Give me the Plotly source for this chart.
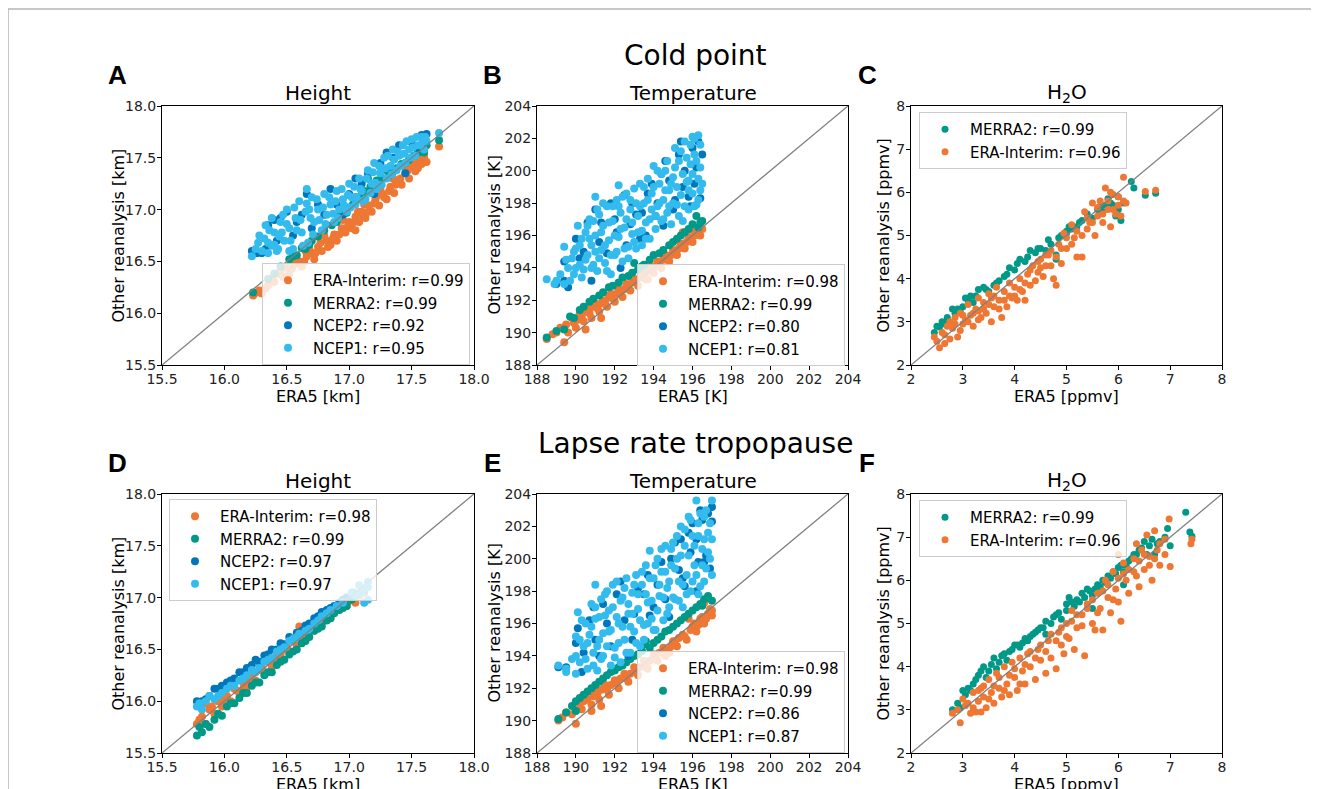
import plotly.graph_objects as go

# the page body adds an 8 px offset, so the figure is drawn 8 px smaller and positions are shifted
PAGE_W, PAGE_H = 1319, 789
OFF = 8
W, H = PAGE_W - OFF, PAGE_H - OFF

ORANGE = '#EE7733'
TEAL = '#009988'
BLUE = '#0077BB'
CYAN = '#33BBEE'

# --- axis limits / ticks ---
height_range = [15.5, 18.0]
height_ticks = [15.5, 16.0, 16.5, 17.0, 17.5, 18.0]
temp_range = [188, 204]
temp_ticks = [188, 190, 192, 194, 196, 198, 200, 202, 204]
h2o_range = [2, 8]
h2o_ticks = [2, 3, 4, 5, 6, 7, 8]

# ---------------- A: cold point height ----------------
a_erai_x = [16.23, 16.28, 16.30, 16.35, 16.40, 16.43, 16.47, 16.50, 16.52, 16.56, 16.60, 16.62, 16.66, 16.70, 16.72,
            16.75, 16.78, 16.82, 16.85, 16.88, 16.90, 16.94, 16.97, 17.00, 17.02, 17.05, 17.08, 17.10, 17.13, 17.16,
            17.18, 17.21, 17.24, 17.27, 17.30, 17.33, 17.36, 17.39, 17.42, 17.45, 17.48, 17.50, 17.53, 17.56, 17.58,
            17.60, 17.62, 17.72, 16.95, 17.12, 16.65, 17.35, 16.80, 17.25, 17.45, 17.05,
            16.26, 16.33, 16.38, 16.45, 16.54, 16.58, 16.64, 16.68, 16.73, 16.77, 16.83, 16.87, 16.92, 16.99, 17.04,
            17.07, 17.11, 17.15, 17.20, 17.23, 17.28, 17.32, 17.37, 17.41, 17.47, 17.52, 17.55, 17.60, 17.57]
a_erai_y = [16.17, 16.22, 16.19, 16.27, 16.30, 16.38, 16.35, 16.44, 16.38, 16.47, 16.50, 16.45, 16.55, 16.58, 16.52,
            16.64, 16.60, 16.70, 16.66, 16.76, 16.70, 16.82, 16.78, 16.88, 16.82, 16.93, 16.88, 16.98, 16.92, 17.04,
            16.98, 17.10, 17.04, 17.15, 17.10, 17.22, 17.16, 17.28, 17.24, 17.35, 17.30, 17.42, 17.37, 17.48, 17.44,
            17.50, 17.46, 17.61, 16.90, 17.05, 16.60, 17.30, 16.75, 17.20, 17.40, 16.80,
            16.20, 16.24, 16.32, 16.40, 16.43, 16.52, 16.50, 16.62, 16.58, 16.68, 16.64, 16.72, 16.76, 16.84, 16.88,
            16.98, 16.94, 16.98, 17.06, 17.14, 17.12, 17.18, 17.24, 17.30, 17.38, 17.44, 17.40, 17.54, 17.52]
a_merra_x = [16.23, 16.35, 16.45, 16.52, 16.58, 16.62, 16.68, 16.75, 16.80, 16.86, 16.92, 16.98, 17.03, 17.08, 17.12,
             17.17, 17.22, 17.27, 17.32, 17.38, 17.45, 17.52, 17.58, 17.62, 17.72, 17.15, 17.25, 16.90, 16.70,
             16.40, 16.55, 16.65, 16.95, 17.00, 17.05, 17.10, 17.20, 17.30, 17.35, 17.42, 17.48, 17.55, 17.60]
a_merra_y = [16.20, 16.33, 16.45, 16.52, 16.56, 16.63, 16.66, 16.74, 16.80, 16.85, 16.93, 16.97, 17.05, 17.10, 17.18,
             17.22, 17.28, 17.30, 17.33, 17.40, 17.45, 17.52, 17.56, 17.62, 17.67, 17.30, 17.35, 16.88, 16.70,
             16.38, 16.55, 16.62, 16.96, 17.02, 17.12, 17.15, 17.25, 17.38, 17.36, 17.44, 17.48, 17.55, 17.55]
a_ncep2_x = [16.22, 16.30, 16.35, 16.40, 16.45, 16.50, 16.55, 16.62, 16.75, 16.85, 16.95, 17.05, 17.15, 17.25, 17.35,
             17.40, 17.50, 17.58, 17.62, 17.45, 17.20, 16.70, 17.60,
             16.26, 16.33, 16.42, 16.58, 16.66, 16.80, 16.90, 17.00, 17.10, 17.30, 17.55]
a_ncep2_y = [16.60, 16.58, 16.85, 16.90, 16.92, 16.98, 16.75, 16.95, 17.05, 17.20, 16.95, 17.30, 17.35, 17.45, 17.50,
             17.62, 17.65, 17.72, 17.73, 17.35, 17.15, 16.82, 17.60,
             16.58, 16.62, 16.70, 16.88, 17.15, 16.95, 17.05, 17.15, 17.25, 17.55, 17.60]
a_ncep1_x = [16.22, 16.25, 16.28, 16.30, 16.33, 16.35, 16.38, 16.40, 16.42, 16.45, 16.48, 16.50, 16.52, 16.55, 16.57,
             16.60, 16.62, 16.65, 16.67, 16.70, 16.72, 16.75, 16.78, 16.80, 16.82, 16.85, 16.88, 16.90, 16.92, 16.95,
             16.98, 17.00, 17.02, 17.05, 17.08, 17.10, 17.13, 17.15, 17.18, 17.20, 17.22, 17.25, 17.28, 17.30, 17.33,
             17.35, 17.38, 17.40, 17.43, 17.45, 17.48, 17.50, 17.53, 17.55, 17.58, 17.60, 17.62, 17.72, 16.66, 16.38,
             16.46,
             16.27, 16.32, 16.36, 16.40, 16.44, 16.47, 16.50, 16.53, 16.56, 16.58, 16.61, 16.63, 16.66, 16.69, 16.71,
             16.74, 16.76, 16.79, 16.81, 16.84, 16.87, 16.89, 16.91, 16.94, 16.96, 16.99, 17.01, 17.04, 17.06, 17.09,
             17.11, 17.14, 17.17, 17.19, 17.21, 17.24, 17.26, 17.29, 17.31, 17.34, 17.36, 17.39, 17.41, 17.44, 17.46,
             17.49, 17.51, 17.54, 17.57, 17.59, 17.61, 16.43, 16.35, 16.52, 16.68]
a_ncep1_y = [16.55, 16.62, 16.75, 16.60, 16.85, 16.68, 16.92, 16.78, 16.60, 16.88, 16.70, 17.00, 16.82, 16.62, 16.92,
             17.08, 16.78, 16.98, 16.68, 17.12, 16.88, 17.00, 16.80, 17.15, 16.95, 17.05, 16.88, 17.18, 17.00, 17.10,
             16.98, 17.25, 17.12, 17.05, 17.30, 17.18, 17.10, 17.38, 17.25, 17.45, 17.20, 17.35, 17.50, 17.30, 17.42,
             17.58, 17.38, 17.52, 17.62, 17.45, 17.58, 17.68, 17.52, 17.62, 17.70, 17.58, 17.66, 17.74, 17.20, 16.65,
             16.78,
             16.68, 16.72, 16.80, 16.66, 16.74, 16.95, 16.86, 16.70, 17.02, 16.80, 16.90, 16.65, 17.06, 16.92, 16.76,
             17.10, 16.90, 17.02, 16.86, 17.12, 16.96, 17.08, 16.92, 17.20, 17.04, 17.14, 17.02, 17.22, 17.12, 17.20,
             17.08, 17.30, 17.16, 17.36, 17.26, 17.42, 17.24, 17.40, 17.52, 17.34, 17.48, 17.56, 17.42, 17.54, 17.66,
             17.50, 17.60, 17.70, 17.62, 17.66, 17.70, 16.62, 16.58, 16.60, 17.00]

# ---------------- B: cold point temperature ----------------
b_erai_x = [188.5, 189.0, 189.4, 189.5, 189.8, 190.0, 190.2, 190.4, 190.6, 190.8, 191.0, 191.2, 191.4, 191.6, 191.8,
            192.0, 192.2, 192.4, 192.6, 192.8, 193.0, 193.2, 193.4, 193.6, 193.8, 194.0, 194.2, 194.4, 194.6, 194.8,
            195.0, 195.2, 195.4, 195.6, 195.8, 196.0, 196.2, 196.4, 196.5, 195.5, 195.9, 193.7, 190.5, 191.3,
            188.8, 189.2, 189.6, 189.9, 190.1, 190.3, 190.5, 190.7, 190.9, 191.1, 191.3, 191.5, 191.7, 191.9, 192.1,
            192.3, 192.5, 192.7, 192.9, 193.1, 193.3, 193.5, 193.7, 193.9, 194.1, 194.3, 194.5, 194.7, 194.9, 195.1,
            195.3, 195.5, 195.7, 195.9, 196.1, 196.3]
b_erai_y = [189.6, 190.0, 189.4, 190.5, 190.9, 190.3, 191.2, 190.7, 191.5, 190.9, 191.8, 191.3, 192.0, 191.6, 192.4,
            191.9, 192.7, 192.2, 193.0, 192.6, 193.3, 192.9, 193.7, 193.3, 194.1, 193.7, 194.4, 194.0, 194.8, 194.4,
            195.1, 194.8, 195.5, 195.2, 195.9, 195.6, 196.2, 196.0, 196.4, 196.2, 196.4, 193.3, 190.2, 190.9,
            189.9, 190.3, 190.0, 190.6, 190.8, 191.0, 191.3, 191.2, 191.6, 191.5, 191.8, 191.9, 192.2, 192.1, 192.4,
            192.5, 192.7, 192.9, 193.1, 193.2, 193.4, 193.6, 193.8, 193.9, 194.1, 194.2, 194.5, 194.6, 194.8, 195.0,
            195.2, 195.4, 195.6, 195.8, 196.0, 196.3]
b_merra_x = [188.5, 189.0, 189.4, 189.7, 190.2, 190.7, 191.2, 191.7, 192.2, 192.7, 193.2, 193.5, 193.8, 194.3, 194.8,
             195.2, 195.6, 196.0, 196.2, 196.5, 196.3,
             189.9, 190.4, 190.9, 191.4, 191.9, 192.4, 192.9, 193.4, 194.0, 194.5, 195.0, 195.4, 195.8, 196.4, 193.0]
b_merra_y = [189.7, 190.1, 190.2, 191.0, 191.4, 191.9, 192.3, 192.8, 193.1, 193.5, 193.9, 194.2, 194.5, 194.9, 195.4,
             195.8, 196.2, 196.7, 197.2, 196.9, 196.5,
             190.9, 191.6, 192.1, 192.5, 192.9, 193.4, 193.7, 194.1, 194.8, 195.1, 195.6, 196.0, 196.4, 196.8, 194.3]
b_ncep2_x = [189.0, 189.4, 189.6, 190.0, 190.4, 190.8, 191.0, 191.3, 191.6, 192.0, 192.3, 192.5, 192.8, 193.1, 193.4,
             193.6, 193.9, 194.2, 194.5, 194.8, 195.0, 195.3, 195.6, 195.8, 196.0, 196.2, 196.4, 196.5, 195.5, 194.6,
             189.4, 190.2, 190.6, 191.2, 191.8, 192.1, 192.6, 192.9, 193.3, 193.7, 194.1, 194.4, 195.1, 195.4, 196.1,
             196.3, 195.9]
b_ncep2_y = [193.0, 194.4, 192.8, 195.8, 195.0, 193.2, 197.6, 196.8, 194.9, 197.0, 194.0, 198.5, 196.7, 197.3, 197.4,
             196.0, 199.2, 198.0, 196.6, 199.4, 197.6, 201.0, 200.0, 198.4, 201.4, 200.2, 198.3, 201.0, 199.0, 200.6,
             193.2, 194.6, 196.8, 195.6, 198.0, 196.2, 195.4, 198.0, 195.8, 198.6, 197.2, 199.8, 198.2, 201.8, 199.2,
             201.8, 197.8]
b_ncep1_x = [188.5, 188.9, 189.0, 189.4, 189.4, 189.6, 189.8, 189.9, 190.0, 190.1, 190.2, 190.3, 190.4, 190.5, 190.6,
             190.7, 190.8, 190.9, 191.0, 191.0, 191.1, 191.2, 191.3, 191.4, 191.5, 191.6, 191.7, 191.8, 191.9, 192.0,
             192.1, 192.2, 192.2, 192.3, 192.4, 192.5, 192.6, 192.7, 192.8, 192.9, 193.0, 193.1, 193.2, 193.3, 193.4,
             193.5, 193.6, 193.7, 193.8, 193.9, 194.0, 194.1, 194.2, 194.3, 194.4, 194.5, 194.6, 194.7, 194.8, 194.9,
             195.0, 195.1, 195.2, 195.3, 195.4, 195.5, 195.6, 195.7, 195.8, 195.9, 196.0, 196.0, 196.1, 196.2, 196.3,
             196.3, 196.4, 196.4,
             189.2, 189.5, 189.7, 189.9, 190.0, 190.2, 190.3, 190.5, 190.6, 190.7, 190.8, 190.9, 191.0, 191.1, 191.2,
             191.3, 191.4, 191.5, 191.6, 191.7, 191.8, 191.9, 192.0, 192.1, 192.2, 192.3, 192.4, 192.5, 192.6, 192.7,
             192.8, 192.9, 193.0, 193.1, 193.2, 193.3, 193.4, 193.5, 193.6, 193.7, 193.8, 193.9, 194.0, 194.1, 194.2,
             194.3, 194.4, 194.5, 194.6, 194.7, 194.8, 194.9, 195.0, 195.1, 195.2, 195.3, 195.4, 195.5, 195.6, 195.7,
             195.8, 195.9, 196.0, 196.1, 196.2, 196.3, 196.4, 196.5, 196.1, 195.8]
b_ncep1_y = [193.3, 193.0, 193.2, 195.3, 193.0, 194.0, 194.6, 193.6, 195.2, 196.6, 194.2, 195.8, 193.9, 196.2, 194.8,
             197.0, 195.4, 194.2, 198.4, 196.0, 193.8, 197.3, 195.1, 196.6, 194.3, 197.8, 195.7, 193.6, 196.9, 194.8,
             198.2, 199.1, 195.9, 197.4, 194.4, 196.5, 198.6, 195.3, 197.6, 196.1, 198.9, 195.2, 197.2, 199.2, 196.3,
             198.0, 195.8, 199.5, 197.0, 198.6, 200.3, 196.4, 197.8, 199.2, 196.9, 198.2, 200.0, 197.4, 198.8, 196.7,
             199.6, 201.4, 197.9, 200.6, 198.5, 196.9, 201.8, 199.3, 197.6, 200.4, 202.1, 198.6, 201.0, 197.9, 202.2,
             199.5, 198.8, 201.6,
             193.6, 194.5, 193.2, 195.0, 194.0, 195.4, 193.4, 194.5, 196.6, 195.8, 194.0, 196.9, 195.0, 197.6, 194.6,
             196.2, 198.0, 195.4, 193.8, 196.8, 194.8, 197.8, 196.0, 195.0, 197.8, 196.4, 198.4, 195.2, 197.0, 194.6,
             198.2, 196.8, 195.6, 198.0, 196.2, 197.8, 195.4, 199.0, 196.8, 198.2, 195.8, 197.6, 199.0, 197.2, 200.0,
             198.0, 199.8, 197.0, 198.8, 200.6, 197.8, 199.2, 198.0, 200.2, 199.0, 197.2, 201.2, 199.8, 197.8, 200.8,
             198.8, 201.6, 199.8, 197.8, 200.6, 198.2, 200.2, 199.2, 202.0, 199.4]

# ---------------- C: cold point H2O ----------------
c_merra_x = [2.45, 2.55, 2.60, 2.70, 2.80, 2.90, 3.00, 3.05, 3.15, 3.30, 3.40, 3.50, 3.60, 3.70, 3.80, 3.90, 4.00,
             4.10, 4.20, 4.30, 4.40, 4.50, 4.60, 4.70, 4.80, 4.80, 4.90, 5.00, 5.10, 5.20, 5.30, 5.40, 5.50, 5.60,
             5.70, 5.75, 5.80, 5.90, 6.00, 6.05, 6.10, 6.25, 6.30, 6.52, 6.72, 5.00, 3.20, 2.70,
             2.50, 2.65, 2.85, 2.95, 3.10, 3.25, 3.45, 3.65, 3.85, 4.05, 4.25, 4.45, 4.65, 4.85, 5.05, 5.25, 5.45,
             5.65, 5.85, 6.00, 5.95]
c_merra_y = [2.75, 2.88, 3.00, 3.05, 3.30, 3.30, 3.35, 3.55, 3.60, 3.75, 3.80, 3.70, 3.85, 3.95, 4.05, 4.25, 4.20,
             4.45, 4.40, 4.65, 4.60, 4.70, 4.65, 4.80, 4.55, 4.45, 5.00, 5.10, 5.15, 5.20, 5.35, 5.50, 5.40, 5.60,
             5.55, 5.70, 5.85, 5.70, 5.60, 5.35, 5.75, 6.25, 6.10, 5.93, 5.98, 5.05, 3.45, 3.10,
             2.90, 2.95, 3.20, 3.25, 3.50, 3.60, 3.75, 3.90, 4.10, 4.35, 4.50, 4.70, 4.90, 4.95, 5.20, 5.30, 5.40,
             5.65, 5.75, 5.90, 5.45]
c_erai_x = [2.45, 2.55, 2.65, 2.60, 2.70, 2.80, 2.85, 2.90, 2.95, 3.00, 3.05, 3.10, 3.15, 3.20, 3.25, 3.30, 3.35,
            3.40, 3.45, 3.50, 3.55, 3.60, 3.65, 3.70, 3.75, 3.80, 3.85, 3.90, 3.95, 4.00, 4.05, 4.10, 4.15, 4.20,
            4.25, 4.30, 4.35, 4.45, 4.50, 4.55, 4.65, 4.70, 4.75, 4.80, 4.85, 4.90, 4.95, 5.00, 5.10, 5.15, 5.20,
            5.30, 5.35, 5.40, 5.45, 5.50, 5.55, 5.60, 5.65, 5.70, 5.75, 5.80, 5.85, 5.90, 5.95, 6.00, 6.05, 6.10,
            6.15, 5.85, 6.52, 6.72, 4.60, 3.30, 2.75,
            2.50, 2.65, 2.75, 2.85, 2.95, 3.00, 3.10, 3.20, 3.30, 3.40, 3.50, 3.60, 3.70, 3.80, 3.90, 4.00, 4.10,
            4.20, 4.30, 4.40, 4.50, 4.60, 4.70, 4.80, 4.90, 5.00, 5.10, 5.20, 5.30, 5.50, 5.60, 5.70, 5.80, 5.90,
            6.00, 6.10, 5.40, 4.45, 3.55]
c_erai_y = [2.65, 2.40, 2.50, 2.75, 2.90, 2.85, 3.10, 2.65, 3.20, 2.95, 3.05, 3.40, 3.15, 2.90, 3.30, 3.55, 3.10,
            3.45, 3.20, 3.65, 3.00, 3.35, 3.80, 3.50, 3.10, 3.70, 3.35, 3.90, 3.55, 3.80, 3.50, 4.00, 3.70, 3.50,
            4.10, 3.85, 4.30, 4.15, 4.45, 4.05, 4.55, 4.30, 4.00, 3.85, 4.80, 4.35, 5.05, 4.70, 5.25, 4.95, 4.50,
            4.50, 5.55, 5.15, 5.30, 5.75, 5.00, 5.45, 5.80, 5.30, 6.10, 5.60, 5.20, 5.95, 5.50, 5.70, 5.45, 6.35,
            5.75, 6.00, 6.02, 6.05, 4.30, 3.25, 3.00,
            2.55, 2.70, 2.60, 2.95, 2.80, 3.15, 3.00, 3.20, 3.05, 3.30, 3.40, 3.60, 3.30, 3.50, 3.60, 3.60, 3.75,
            3.90, 4.20, 3.95, 4.25, 4.55, 4.65, 4.50, 4.70, 4.95, 4.80, 5.10, 5.00, 5.30, 5.65, 5.50, 5.80, 5.60,
            5.90, 5.80, 5.40, 4.40, 3.55]

# ---------------- D: lapse rate height ----------------
d_erai_x = [15.78, 15.82, 15.85, 15.88, 15.92, 15.95, 15.98, 16.02, 16.05, 16.08, 16.12, 16.15, 16.18, 16.22, 16.25,
            16.28, 16.32, 16.35, 16.38, 16.42, 16.45, 16.48, 16.52, 16.55, 16.58, 16.62, 16.65, 16.68, 16.72, 16.75,
            16.78, 16.82, 16.85, 16.88, 16.92, 16.95, 16.98, 17.02, 17.08, 17.12, 16.60, 16.35, 15.85,
            15.80, 15.90, 16.00, 16.10, 16.20, 16.30, 16.40, 16.50, 16.60, 16.70, 16.80, 16.90, 17.00, 17.05, 16.15,
            16.45, 16.75]
d_erai_y = [15.78, 15.85, 15.78, 15.92, 15.88, 16.00, 15.95, 16.05, 16.00, 16.12, 16.08, 16.18, 16.14, 16.25, 16.20,
            16.30, 16.28, 16.38, 16.33, 16.45, 16.40, 16.50, 16.48, 16.58, 16.54, 16.65, 16.60, 16.72, 16.68, 16.78,
            16.74, 16.84, 16.80, 16.90, 16.88, 16.95, 16.92, 17.00, 17.02, 17.05, 16.72, 16.45, 15.98,
            15.82, 15.95, 16.02, 16.10, 16.20, 16.32, 16.40, 16.52, 16.62, 16.70, 16.80, 16.92, 16.97, 16.95, 16.12,
            16.45, 16.72]
d_merra_x = [15.78, 15.82, 15.88, 15.92, 15.98, 16.02, 16.08, 16.12, 16.18, 16.22, 16.28, 16.32, 16.38, 16.42, 16.48,
             16.52, 16.58, 16.62, 16.68, 16.72, 16.78, 16.82, 16.88, 16.92, 16.98, 17.02, 17.05, 17.12,
             15.80, 15.85, 15.95, 16.05, 16.15, 16.25, 16.35, 16.45, 16.55, 16.65, 16.75, 16.85, 16.95]
d_merra_y = [15.67, 15.70, 15.75, 15.82, 15.86, 15.95, 15.98, 16.03, 16.08, 16.15, 16.18, 16.25, 16.28, 16.35, 16.40,
             16.45, 16.50, 16.56, 16.62, 16.68, 16.72, 16.78, 16.85, 16.88, 16.92, 16.98, 17.02, 17.08,
             15.75, 15.78, 15.88, 15.98, 16.08, 16.18, 16.28, 16.38, 16.48, 16.58, 16.70, 16.80, 16.90]
d_ncep2_x = [15.78, 15.85, 15.92, 15.98, 16.05, 16.12, 16.18, 16.25, 16.32, 16.38, 16.45, 16.52, 16.58, 16.65, 16.72,
             16.78, 16.85, 16.92, 16.98, 17.03,
             15.82, 15.88, 15.95, 16.02, 16.08, 16.15, 16.22, 16.28, 16.35, 16.42, 16.48, 16.55, 16.62, 16.68, 16.75,
             16.82, 16.88, 16.95]
d_ncep2_y = [16.00, 16.02, 16.12, 16.15, 16.20, 16.28, 16.32, 16.40, 16.44, 16.50, 16.56, 16.62, 16.66, 16.73, 16.80,
             16.86, 16.90, 16.95, 17.00, 17.05,
             16.00, 16.05, 16.12, 16.18, 16.22, 16.28, 16.35, 16.38, 16.45, 16.50, 16.55, 16.60, 16.68, 16.75, 16.82,
             16.88, 16.92, 16.98]
d_ncep1_x = [15.78, 15.82, 15.88, 15.95, 16.02, 16.08, 16.15, 16.22, 16.28, 16.35, 16.42, 16.48, 16.55, 16.60, 16.68,
             16.75, 16.82, 16.90, 16.95, 17.02, 17.08, 17.12, 17.15, 17.15, 17.05,
             15.80, 15.85, 15.92, 15.98, 16.05, 16.12, 16.18, 16.25, 16.32, 16.38, 16.45, 16.52, 16.58, 16.65, 16.72,
             16.78, 16.85, 17.10, 17.12, 17.15]
d_ncep1_y = [15.95, 15.92, 16.05, 16.05, 16.12, 16.15, 16.22, 16.30, 16.32, 16.40, 16.48, 16.52, 16.60, 16.65, 16.70,
             16.78, 16.85, 16.92, 16.95, 17.05, 17.12, 17.08, 17.15, 16.98, 17.02,
             15.98, 16.00, 16.02, 16.08, 16.15, 16.20, 16.25, 16.28, 16.38, 16.42, 16.50, 16.58, 16.62, 16.68, 16.75,
             16.82, 16.88, 17.05, 16.95, 17.10]

# ---------------- E: lapse rate temperature ----------------
e_erai_x = [189.1, 189.5, 190.0, 190.0, 190.3, 190.5, 190.8, 191.0, 191.2, 191.5, 191.7, 192.0, 192.2, 192.5, 192.7,
            193.0, 193.2, 193.5, 193.7, 194.0, 194.2, 194.5, 194.6, 194.8, 195.0, 195.2, 195.5, 195.7, 196.0, 196.2,
            196.4, 196.6, 196.8, 197.0, 197.0, 196.6, 195.8, 190.8, 191.3,
            189.3, 189.8, 190.2, 190.4, 190.6, 190.9, 191.1, 191.3, 191.6, 191.8, 192.1, 192.3, 192.6, 192.8, 193.1,
            193.3, 193.6, 193.8, 194.1, 194.3, 194.7, 194.9, 195.1, 195.3, 195.6, 195.9, 196.1, 196.3, 196.5, 196.7,
            196.9]
e_erai_y = [190.0, 190.5, 189.8, 191.0, 190.7, 191.5, 191.0, 191.8, 191.3, 192.2, 191.6, 192.5, 192.0, 192.9, 192.4,
            193.3, 192.8, 193.7, 193.2, 194.1, 193.7, 194.5, 194.0, 194.2, 194.9, 194.6, 195.3, 195.0, 195.8, 195.5,
            196.3, 196.0, 196.6, 196.8, 196.5, 197.3, 196.3, 190.6, 190.9,
            190.2, 190.4, 190.9, 191.2, 191.3, 191.5, 191.6, 191.9, 191.9, 192.2, 192.3, 192.6, 192.6, 192.9, 193.0,
            193.3, 193.4, 193.7, 193.8, 194.2, 194.3, 194.6, 194.9, 195.1, 195.2, 195.6, 196.0, 195.9, 196.4, 196.3,
            196.9]
e_merra_x = [189.1, 189.5, 190.0, 190.0, 190.4, 190.8, 191.2, 191.6, 192.0, 192.4, 192.8, 193.2, 193.5, 193.8, 194.2,
             194.6, 195.0, 195.4, 195.8, 196.2, 196.6, 196.8, 197.0, 196.4,
             189.8, 190.2, 190.6, 191.0, 191.4, 191.8, 192.2, 192.6, 193.0, 193.4, 194.0, 194.4, 194.8, 195.2, 195.6,
             196.0, 196.5, 193.6]
e_merra_y = [190.1, 190.5, 190.6, 191.2, 191.6, 192.0, 192.4, 192.8, 193.1, 193.4, 193.8, 194.1, 194.7, 194.5, 195.0,
             195.5, 195.8, 196.2, 196.6, 197.0, 197.5, 197.7, 197.4, 197.2,
             190.9, 191.4, 191.8, 192.2, 192.6, 193.0, 193.3, 193.6, 194.0, 194.3, 194.8, 195.2, 195.6, 196.0, 196.4,
             196.8, 197.1, 194.9]
e_ncep2_x = [189.1, 189.5, 190.0, 190.1, 190.3, 190.7, 191.0, 191.4, 191.8, 192.1, 192.5, 192.9, 193.2, 193.5, 193.8,
             194.2, 194.6, 194.9, 195.3, 195.6, 195.9, 196.0, 196.2, 196.4, 196.6, 196.8, 197.0, 197.0, 196.9, 195.4,
             190.4, 190.9, 191.2, 191.6, 192.3, 192.7, 193.0, 193.7, 194.0, 194.4, 194.8, 195.1, 195.5, 195.8, 196.3,
             196.5, 196.7, 196.2]
e_ncep2_y = [193.3, 193.3, 194.8, 195.7, 193.0, 196.2, 195.0, 197.2, 194.6, 197.8, 196.2, 195.0, 198.2, 197.8, 196.5,
             198.4, 197.5, 200.0, 199.3, 198.3, 200.4, 202.2, 201.2, 203.0, 199.8, 202.8, 203.2, 202.3, 199.4, 201.2,
             194.2, 197.0, 194.0, 196.0, 198.6, 194.0, 196.6, 199.0, 197.0, 199.8, 196.4, 201.0, 198.8, 201.6, 199.8,
             202.4, 200.2, 198.0]
e_ncep1_x = [189.1, 189.5, 189.5, 190.0, 190.0, 190.0, 190.1, 190.2, 190.4, 190.5, 190.6, 190.7, 190.8, 190.9, 191.0,
             191.0, 191.1, 191.2, 191.3, 191.4, 191.5, 191.6, 191.7, 191.8, 191.9, 192.0, 192.1, 192.2, 192.3, 192.4,
             192.5, 192.6, 192.7, 192.8, 192.9, 193.0, 193.1, 193.2, 193.3, 193.4, 193.5, 193.6, 193.7, 193.8, 193.9,
             194.0, 194.1, 194.2, 194.3, 194.4, 194.5, 194.6, 194.7, 194.8, 194.9, 195.0, 195.1, 195.2, 195.3, 195.4,
             195.5, 195.6, 195.7, 195.8, 195.9, 196.0, 196.1, 196.2, 196.3, 196.4, 196.5, 196.6, 196.7, 196.8, 196.9,
             197.0, 197.0, 196.3,
             189.8, 190.2, 190.3, 190.5, 190.6, 190.8, 190.9, 191.0, 191.1, 191.2, 191.3, 191.4, 191.5, 191.6, 191.7,
             191.8, 191.9, 192.0, 192.1, 192.2, 192.3, 192.4, 192.5, 192.6, 192.7, 192.8, 192.9, 193.0, 193.1, 193.2,
             193.3, 193.4, 193.5, 193.6, 193.7, 193.8, 193.9, 194.0, 194.1, 194.2, 194.3, 194.4, 194.5, 194.6, 194.7,
             194.8, 194.9, 195.0, 195.1, 195.2, 195.3, 195.4, 195.5, 195.6, 195.7, 195.8, 195.9, 196.0, 196.1, 196.2,
             196.3, 196.4, 196.5, 196.6, 196.7, 196.8, 196.9, 197.0, 196.6]
e_ncep1_y = [193.4, 193.2, 193.0, 192.9, 194.0, 195.2, 196.7, 193.6, 194.6, 196.0, 193.2, 195.3, 197.2, 194.2, 198.4,
             196.3, 193.1, 195.0, 197.5, 194.0, 196.5, 198.0, 195.5, 193.4, 197.0, 194.5, 198.6, 196.0, 193.6, 197.6,
             195.0, 198.8, 196.6, 194.2, 197.9, 195.5, 199.0, 196.9, 194.6, 198.4, 195.9, 199.6, 197.3, 200.5, 196.3,
             198.8, 195.6, 200.0, 197.7, 199.2, 196.2, 200.8, 198.2, 197.0, 199.6, 201.0, 197.5, 200.0, 198.6, 202.0,
             197.0, 200.8, 199.0, 202.6, 198.0, 201.4, 199.6, 203.6, 202.2, 198.3, 200.6, 202.6, 199.4, 201.6, 200.0,
             203.6, 199.0, 197.8,
             193.8, 195.0, 196.2, 193.8, 194.8, 195.8, 193.4, 197.0, 194.6, 196.4, 193.8, 195.4, 197.8, 194.6, 196.8,
             195.6, 198.4, 193.9, 196.4, 194.8, 197.4, 195.8, 198.2, 194.2, 197.2, 195.8, 196.6, 198.4, 194.8, 197.8,
             196.2, 199.2, 195.0, 197.8, 196.0, 198.8, 197.4, 195.6, 199.6, 196.8, 198.4, 200.6, 197.6, 199.2, 196.6,
             198.6, 200.6, 197.6, 199.4, 201.4, 197.4, 200.2, 198.4, 201.8, 197.8, 200.2, 202.4, 198.6, 200.8, 199.0,
             201.4, 202.8, 199.6, 201.2, 203.0, 200.4, 202.2, 201.2, 198.6]

# ---------------- F: lapse rate H2O ----------------
f_merra_x = [2.80, 2.95, 3.00, 3.10, 3.05, 3.20, 3.30, 3.40, 3.50, 3.60, 3.70, 3.80, 3.90, 4.00, 4.10, 4.20, 4.30,
             4.40, 4.50, 4.60, 4.70, 4.80, 4.90, 5.00, 5.05, 5.10, 5.20, 5.30, 5.40, 5.50, 5.60, 5.70, 5.80, 5.90,
             6.00, 6.10, 6.20, 6.30, 6.40, 6.50, 6.55, 6.60, 6.70, 6.80, 6.95, 7.00, 7.30, 7.38, 7.42, 6.10, 5.50,
             4.60,
             2.90, 3.15, 3.25, 3.35, 3.45, 3.55, 3.65, 3.75, 3.85, 3.95, 4.05, 4.15, 4.25, 4.35, 4.45, 4.55, 4.75,
             4.85, 5.15, 5.25, 5.35, 5.45, 5.55, 5.65, 5.75, 5.85, 5.95, 6.05, 6.15, 6.25, 6.35, 6.45, 6.65, 6.75,
             6.90, 5.00]
f_merra_y = [3.00, 3.05, 3.45, 3.50, 3.35, 3.60, 3.80, 4.00, 3.90, 4.20, 4.10, 4.30, 4.35, 4.50, 4.45, 4.65, 4.70,
             4.80, 4.90, 5.05, 5.00, 5.20, 5.10, 5.30, 5.60, 5.50, 5.55, 5.70, 5.80, 5.65, 5.90, 6.00, 6.10, 6.20,
             6.30, 6.20, 6.45, 6.60, 6.70, 6.90, 6.60, 6.80, 6.60, 6.90, 7.20, 6.80, 7.58, 7.12, 7.02, 5.90, 5.35,
             4.75,
             3.15, 3.45, 3.70, 3.90, 3.75, 4.05, 3.95, 4.25, 4.15, 4.40, 4.50, 4.55, 4.60, 4.75, 4.85, 4.90, 5.15,
             5.25, 5.40, 5.50, 5.60, 5.75, 5.80, 5.85, 5.95, 6.05, 6.15, 6.35, 6.35, 6.50, 6.60, 6.75, 6.95, 6.85,
             7.00, 5.45]
f_erai_x = [2.80, 2.95, 3.00, 3.05, 3.15, 3.20, 3.25, 3.30, 3.35, 3.40, 3.45, 3.50, 3.55, 3.60, 3.65, 3.70, 3.75,
            3.80, 3.85, 3.90, 3.95, 4.00, 4.05, 4.10, 4.15, 4.20, 4.25, 4.30, 4.40, 4.45, 4.50, 4.60, 4.65, 4.70,
            4.80, 4.85, 4.90, 5.00, 5.05, 5.10, 5.15, 5.20, 5.30, 5.35, 5.40, 5.50, 5.55, 5.60, 5.65, 5.70, 5.75,
            5.80, 5.85, 5.90, 5.95, 6.00, 6.05, 6.10, 6.15, 6.20, 6.30, 6.35, 6.40, 6.45, 6.50, 6.55, 6.60, 6.65,
            6.70, 6.75, 6.80, 6.90, 6.98, 7.00, 7.40, 7.42, 6.35, 6.00,
            2.90, 3.10, 3.20, 3.30, 3.40, 3.50, 3.60, 3.70, 3.80, 3.90, 4.00, 4.10, 4.20, 4.30, 4.40, 4.50, 4.60,
            4.70, 4.80, 4.90, 5.00, 5.10, 5.20, 5.30, 5.40, 5.50, 5.60, 5.70, 5.80, 5.90, 6.00, 6.10, 6.20, 6.30,
            6.40, 6.50, 6.60, 6.70, 6.80, 6.90, 3.35, 4.95]
f_erai_y = [2.92, 2.70, 3.25, 3.10, 2.92, 3.40, 2.95, 3.20, 3.50, 3.30, 3.05, 3.70, 3.40, 3.15, 3.85, 3.50, 3.30,
            4.00, 3.60, 3.35, 4.10, 3.75, 3.45, 4.20, 3.90, 3.60, 4.30, 4.00, 3.70, 4.40, 4.15, 3.85, 4.60, 4.20,
            3.95, 4.80, 4.50, 5.00, 4.65, 5.30, 4.40, 4.90, 5.20, 4.25, 5.45, 5.00, 4.85, 5.70, 5.35, 4.85, 6.00,
            5.60, 5.25, 6.20, 5.80, 5.50, 5.05, 6.40, 6.00, 5.70, 6.50, 6.10, 5.85, 6.70, 6.25, 7.05, 6.55, 6.00,
            7.15, 6.70, 6.35, 6.60, 7.42, 6.32, 6.85, 6.95, 6.85, 6.60,
            3.00, 3.15, 3.05, 3.45, 3.55, 3.25, 3.55, 3.75, 3.45, 3.80, 3.95, 3.60, 4.05, 4.35, 4.20, 4.50, 4.35,
            4.75, 4.60, 4.90, 4.70, 5.05, 5.20, 4.95, 5.35, 5.55, 5.25, 5.75, 5.90, 5.55, 6.05, 6.15, 6.25, 6.20,
            6.45, 6.60, 6.35, 6.50, 6.85, 6.95, 2.95, 4.30]

# -------- layout helpers (pixel positions measured on the page) --------
def fx(p):
    return max(p - OFF, 0) / W

def fy(p):
    return 1 - max(p - OFF, 0) / H

col_px = [(162, 474), (537, 848), (911, 1222)]
row_px = [(106, 365), (494, 753)]
ytitle_gap = [44, 43, 28]   # distance from the left axis line to the y-title centre, per column

panels = [
    # letter, row, col, range, ticks, fmt, x title, y title, subtitle, series, marker size, legend pos (px)
    ('A', 0, 0, height_range, height_ticks, '.1f', 'ERA5 [km]', 'Other reanalysis [km]', 'Height',
     [(a_erai_x, a_erai_y, ORANGE, 'ERA-Interim: r=0.99'), (a_merra_x, a_merra_y, TEAL, 'MERRA2: r=0.99'),
      (a_ncep2_x, a_ncep2_y, BLUE, 'NCEP2: r=0.92'), (a_ncep1_x, a_ncep1_y, CYAN, 'NCEP1: r=0.95')], 8, (262, 263)),
    ('B', 0, 1, temp_range, temp_ticks, 'd', 'ERA5 [K]', 'Other reanalysis [K]', 'Temperature',
     [(b_erai_x, b_erai_y, ORANGE, 'ERA-Interim: r=0.98'), (b_merra_x, b_merra_y, TEAL, 'MERRA2: r=0.99'),
      (b_ncep2_x, b_ncep2_y, BLUE, 'NCEP2: r=0.80'), (b_ncep1_x, b_ncep1_y, CYAN, 'NCEP1: r=0.81')], 8, (637, 264)),
    ('C', 0, 2, h2o_range, h2o_ticks, 'd', 'ERA5 [ppmv]', 'Other reanalysis [ppmv]', 'H<sub>2</sub>O',
     [(c_merra_x, c_merra_y, TEAL, 'MERRA2: r=0.99'), (c_erai_x, c_erai_y, ORANGE, 'ERA-Interim: r=0.96')],
     7, (919, 112)),
    ('D', 1, 0, height_range, height_ticks, '.1f', 'ERA5 [km]', 'Other reanalysis [km]', 'Height',
     [(d_erai_x, d_erai_y, ORANGE, 'ERA-Interim: r=0.98'), (d_merra_x, d_merra_y, TEAL, 'MERRA2: r=0.99'),
      (d_ncep2_x, d_ncep2_y, BLUE, 'NCEP2: r=0.97'), (d_ncep1_x, d_ncep1_y, CYAN, 'NCEP1: r=0.97')], 8, (169, 499)),
    ('E', 1, 1, temp_range, temp_ticks, 'd', 'ERA5 [K]', 'Other reanalysis [K]', 'Temperature',
     [(e_erai_x, e_erai_y, ORANGE, 'ERA-Interim: r=0.98'), (e_merra_x, e_merra_y, TEAL, 'MERRA2: r=0.99'),
      (e_ncep2_x, e_ncep2_y, BLUE, 'NCEP2: r=0.86'), (e_ncep1_x, e_ncep1_y, CYAN, 'NCEP1: r=0.87')], 8, (637, 651)),
    ('F', 1, 2, h2o_range, h2o_ticks, 'd', 'ERA5 [ppmv]', 'Other reanalysis [ppmv]', 'H<sub>2</sub>O',
     [(f_merra_x, f_merra_y, TEAL, 'MERRA2: r=0.99'), (f_erai_x, f_erai_y, ORANGE, 'ERA-Interim: r=0.96')],
     7, (919, 500)),
]

FONT = 'DejaVu Sans'
fig = go.Figure()
layout = dict(
    width=W, height=H, margin=dict(l=0, r=0, t=0, b=0, autoexpand=False),
    paper_bgcolor='white', plot_bgcolor='white',
    font=dict(family=FONT, color='black', size=13),
    annotations=[], shapes=[],
)

def note(text, xp, yp, size, angle=0, family=FONT):
    layout['annotations'].append(dict(
        text=text, x=fx(xp), y=fy(yp), xref='paper', yref='paper', showarrow=False,
        xanchor='center', yanchor='middle', textangle=angle, font=dict(size=size, family=family, color='black')))

for i, (letter, r, c, rng, ticks, fmt, xt, yt, sub, series, msize, lpos) in enumerate(panels):
    n = i + 1
    xa = 'x' if n == 1 else f'x{n}'
    ya = 'y' if n == 1 else f'y{n}'
    leg = 'legend' if n == 1 else f'legend{n}'
    for sx, sy, col, name in series:
        fig.add_trace(go.Scatter(
            x=sx, y=sy, mode='markers', name=name, xaxis=xa, yaxis=ya, legend=leg,
            marker=dict(color=col, size=msize, line=dict(width=0)),
        ))
    # 1:1 line
    fig.add_trace(go.Scatter(x=rng, y=rng, mode='lines', xaxis=xa, yaxis=ya, showlegend=False,
                             line=dict(color='#808080', width=1.3), hoverinfo='skip'))

    x0, x1 = col_px[c]
    y0, y1 = row_px[r]
    ticktext = [format(t, fmt) for t in ticks]
    axis_common = dict(range=rng, tickvals=ticks, ticktext=ticktext, showgrid=False, zeroline=False,
                       showline=True, linecolor='black', linewidth=1, mirror=True, automargin=False,
                       ticks='outside', ticklen=4, tickwidth=1, tickcolor='black',
                       tickfont=dict(size=14, family=FONT, color='#222'))
    layout['xaxis' if n == 1 else f'xaxis{n}'] = dict(
        axis_common, domain=[fx(x0), fx(x1)], anchor=ya, ticklabelstandoff=-3)
    layout['yaxis' if n == 1 else f'yaxis{n}'] = dict(
        axis_common, domain=[fy(y1), fy(y0)], anchor=xa, ticklabelstandoff=-2)
    layout[leg] = dict(
        x=fx(lpos[0]), y=fy(lpos[1]), xanchor='left', yanchor='top', xref='paper', yref='paper',
        bgcolor='rgba(255,255,255,0.8)', bordercolor='#cccccc', borderwidth=1,
        font=dict(size=15, family=FONT), tracegroupgap=0, itemwidth=40,
    )
    # axis titles
    note(xt, (x0 + x1) / 2, y1 + 31, 16)
    note(yt, x0 - ytitle_gap[c], (y0 + y1) / 2, 16, angle=-90)
    # subplot title
    note(sub, (x0 + x1) / 2, y0 - 13, 20)
    # panel letter
    note(f'<b>{letter}</b>', x0 - 44, y0 - 31, 26, family='Liberation Sans')

note('Cold point', 695, 55, 28)
note('Lapse rate tropopause', 695, 443, 28)

# thin frame of the page (top and left edges)
layout['shapes'] += [
    dict(type='line', xref='paper', yref='paper', x0=fx(7), x1=1, y0=fy(9), y1=fy(9),
         line=dict(color='#b4b4b4', width=1.5)),
    dict(type='line', xref='paper', yref='paper', x0=fx(7), x1=fx(7), y0=fy(9), y1=0,
         line=dict(color='#b4b4b4', width=1.5)),
]

fig.update_layout(**layout)
fig.write_html('out.html')
